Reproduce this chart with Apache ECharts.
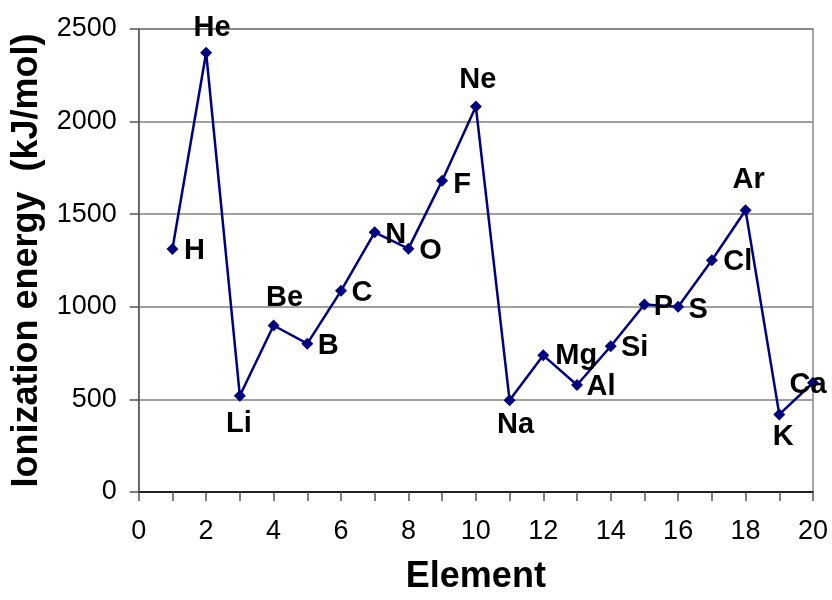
<!DOCTYPE html>
<html>
<head>
<meta charset="utf-8">
<script src="https://cdn.jsdelivr.net/npm/echarts@6/dist/echarts.min.js"></script>
<style>
html,body{margin:0;padding:0;background:#fff;}
#chart{width:832px;height:600px;}
</style>
</head>
<body>
<div id="chart"></div>
<script>
// Data
var elements = ['H','He','Li','Be','B','C','N','O','F','Ne','Na','Mg','Al','Si','P','S','Cl','Ar','K','Ca'];
var atomicNumbers = [1,2,3,4,5,6,7,8,9,10,11,12,13,14,15,16,17,18,19,20];
var ionizationEnergy = [1312,2372,520,899,801,1086,1402,1314,1681,2081,496,738,578,787,1012,1000,1251,1521,419,590];
var xTicks = [0,2,4,6,8,10,12,14,16,18,20];
var yTicks = [0,500,1000,1500,2000,2500];

// label placement (pixel offsets of label centre from each marker, styling only)
var labelOffsets = [
  [22,2],[6,-25],[-1,28],[11,-28],[21,2],[21,2],[21,3],[22,2],[20,4],[2,-27],
  [6,25],[33,1],[24,2],[24,2],[19,2],[20,3],[26,2],[3,-30],[4,23],[-5,2]
];

var SYM = 12;
var font = 'Liberation Sans, Arial, sans-serif';

var seriesData = atomicNumbers.map(function(n, i){
  return {
    name: elements[i],
    value: [n, ionizationEnergy[i]],
    label: {
      show: true,
      position: [SYM/2 + labelOffsets[i][0], SYM/2 + labelOffsets[i][1]],
      align: 'center',
      verticalAlign: 'middle',
      formatter: '{b}',
      fontFamily: font,
      fontWeight: 'bold',
      fontSize: 29,
      color: '#000'
    }
  };
});

var chart = echarts.init(document.getElementById('chart'), null, {renderer:'canvas'});
chart.setOption({
  animation: false,
  backgroundColor: '#fff',
  grid: {
    left: 138.7, right: 19, top: 29, bottom: 101.7,
    show: true, borderColor: '#888', borderWidth: 1.5, backgroundColor: 'transparent'
  },
  xAxis: {
    type: 'value',
    min: xTicks[0], max: xTicks[xTicks.length-1], interval: 2,
    name: 'Element',
    nameLocation: 'middle',
    nameGap: 67,
    nameTextStyle: { fontFamily: font, fontWeight: 'bold', fontSize: 36, color: '#000' },
    axisLine: { show: true, lineStyle: { color: '#000', width: 1.5 } },
    axisTick: { show: true, inside: false, length: 9, lineStyle: { color: '#555', width: 1.5 } },
    minorTick: { show: true, splitNumber: 2, length: 9, lineStyle: { color: '#555', width: 1.5 } },
    axisLabel: { fontFamily: font, fontSize: 27, color: '#000', margin: 26, showMinLabel: true, showMaxLabel: true, hideOverlap: false,
      formatter: function(v){ return String(v); } },
    splitLine: { show: false },
    minorSplitLine: { show: false }
  },
  yAxis: {
    type: 'value',
    min: yTicks[0], max: yTicks[yTicks.length-1], interval: 500,
    name: 'Ionization energy  (kJ/mol)',
    nameLocation: 'middle',
    nameGap: 94,
    nameTextStyle: { fontFamily: font, fontWeight: 'bold', fontSize: 36, color: '#000' },
    axisLine: { show: true, lineStyle: { color: '#555', width: 1.5 } },
    axisTick: { show: true, inside: false, length: 9, lineStyle: { color: '#555', width: 1.5 } },
    axisLabel: { fontFamily: font, fontSize: 27, color: '#000', margin: 22, showMinLabel: true, showMaxLabel: true, hideOverlap: false,
      formatter: function(v){ return String(v); } },
    splitLine: { show: true, lineStyle: { color: '#808080', width: 1.5 } }
  },
  series: [{
    type: 'line',
    data: seriesData,
    symbol: 'diamond',
    symbolSize: SYM,
    showAllSymbol: true,
    clip: false,
    lineStyle: { color: '#000080', width: 2.5 },
    itemStyle: { color: '#000080' },
    label: { show: true },
    labelLayout: { hideOverlap: false },
    emphasis: { disabled: true }
  }]
});
</script>
</body>
</html>
